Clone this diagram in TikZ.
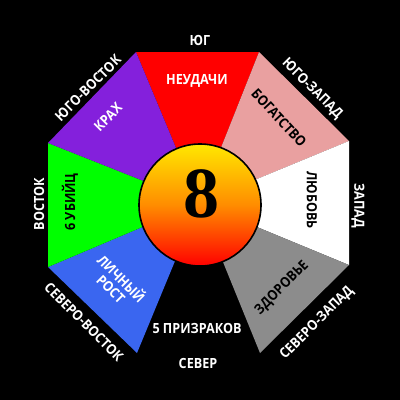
\documentclass[tikz,border=0pt]{standalone}
\usepackage{fontspec}
\setmainfont{Open Sans}[FakeStretch=0.9]
\newfontfamily\eightfont{Liberation Serif}
\definecolor{sred}{RGB}{255,0,0}
\definecolor{spink}{RGB}{233,160,160}
\definecolor{sgray}{RGB}{140,140,140}
\definecolor{sblue}{RGB}{58,102,240}
\definecolor{sgreen}{RGB}{0,255,0}
\definecolor{spurple}{RGB}{132,32,220}
\definecolor{byellow}{RGB}{255,232,0}
\definecolor{borange}{RGB}{255,140,0}
\begin{document}
\begin{tikzpicture}[x=1pt,y=-1pt,
  lbl/.style={font=\bfseries\fontsize{14}{14.5}\selectfont, text=white, inner sep=0pt, align=center},
  dlbl/.style={lbl, text=black},
  ball/.style={circle, draw=black, line width=1.6pt, minimum size=122pt, inner sep=0pt,
    top color=byellow, bottom color=sred, middle color=borange, shading angle=0}]
\fill[black] (0,0) rectangle (400,400);
\useasboundingbox (0,0) rectangle (400,400);
\coordinate (O) at (199,203);
\coordinate (v1) at (136,52);
\coordinate (v2) at (259,52);
\coordinate (v3) at (349,141);
\coordinate (v4) at (349,265);
\coordinate (v5) at (260,353);
\coordinate (v6) at (137,353);
\coordinate (v7) at (48,267);
\coordinate (v8) at (48,143);
\fill[sred] (O) -- (v1) -- (v2) -- cycle;
\fill[spink] (O) -- (v2) -- (v3) -- cycle;
\fill[white] (O) -- (v3) -- (v4) -- cycle;
\fill[sgray] (O) -- (v4) -- (v5) -- cycle;
\fill[sblue] (O) -- (v6) -- (v7) -- cycle;
\fill[sgreen] (O) -- (v7) -- (v8) -- cycle;
\fill[spurple] (O) -- (v8) -- (v1) -- cycle;
\node[ball] (ball) at (200,205) {};
\node[inner sep=0pt, font=\eightfont\bfseries\fontsize{72}{72}\selectfont] (eight) at (201,194) {8};
% sector labels
\node[lbl] (neudachi) at (197,81) {НЕУДАЧИ};
\node[dlbl, rotate=-47] (bogatstvo) at (279,118) {БОГАТСТВО};
\node[dlbl, rotate=-90] (lubov) at (312,200) {ЛЮБОВЬ};
\node[dlbl, rotate=45] (zdorovie) at (282,288) {ЗДОРОВЬЕ};
\node[lbl] (prizrakov) at (197,328) {5 ПРИЗРАКОВ};
\node[lbl, rotate=-45] (rost) at (117,283) {ЛИЧНЫЙ\\РОСТ};
\node[dlbl, rotate=90] (ubiits) at (70,202) {6 УБИЙЦ};
\node[lbl, rotate=45] (krah) at (108,117) {КРАХ};
% directions
\node[lbl] (yug) at (200,40) {ЮГ};
\node[lbl, rotate=-45] (yugzapad) at (312,89) {ЮГО-ЗАПАД};
\node[lbl, rotate=-90] (zapad) at (358,206) {ЗАПАД};
\node[lbl, rotate=45] (sevzapad) at (317,323) {СЕВЕРО-ЗАПАД};
\node[lbl] (sever) at (198,363) {СЕВЕР};
\node[lbl, rotate=-45] (sevvostok) at (84,322) {СЕВЕРО-ВОСТОК};
\node[lbl, rotate=90] (vostok) at (39,204) {ВОСТОК};
\node[lbl, rotate=45] (yugvostok) at (88,88) {ЮГО-ВОСТОК};
\end{tikzpicture}
\end{document}
